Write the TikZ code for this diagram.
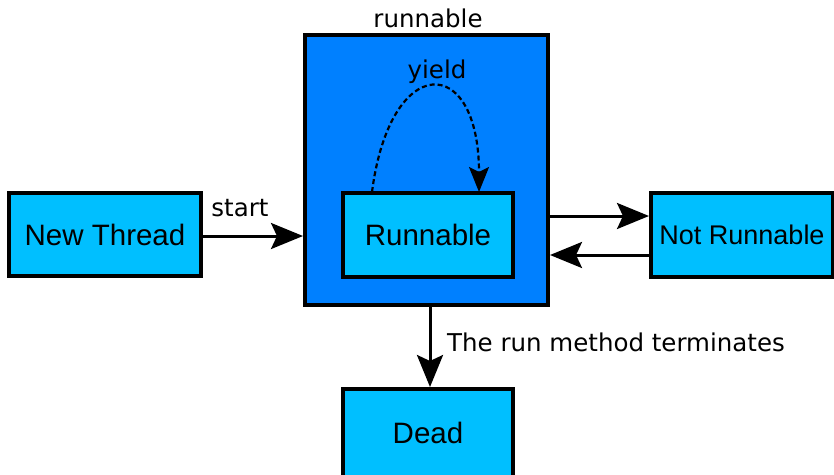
\documentclass[tikz,border=0pt]{standalone}
\usepackage{fontspec}
\newfontfamily\boxfont{Liberation Sans}
\newfontfamily\labfont{DejaVu Sans}
\usetikzlibrary{arrows.meta}
\definecolor{outerblue}{HTML}{0080FF}
\definecolor{innerblue}{HTML}{00BFFF}
\begin{document}
\begin{tikzpicture}[x=1pt,y=-1pt,
  statebox/.style={draw=black, line width=4pt, fill=innerblue, rectangle, inner sep=0pt,
    font=\boxfont\fontsize{29.5}{34}\selectfont},
  conn/.style={line width=3pt, -{Stealth[length=32pt,width=26pt,inset=6pt]}},
  lab/.style={font=\labfont\fontsize{24.5}{29}\selectfont, inner sep=0pt}]
\useasboundingbox (0,0) rectangle (834,474);
\node[draw=black, line width=4pt, fill=outerblue, rectangle, minimum width=243pt, minimum height=270pt, inner sep=0pt] (outer) at (426.5,170) {};
\node[lab] (outerlab) at (428,18) {runnable};
\node[statebox, minimum width=170pt, minimum height=84pt] (run) at (428,235) {Runnable};
\node[statebox, minimum width=192pt, minimum height=83pt] (new) at (105,234.5) {New Thread};
\node[statebox, minimum width=182pt, minimum height=84pt, font=\boxfont\fontsize{27}{32}\selectfont] (notrun) at (742,235) {Not Runnable};
\node[statebox, minimum width=170pt, minimum height=88pt] (dead) at (428,433) {Dead};
\coordinate (ys) at (372,192);
\coordinate (ye) at (479,192);
\draw[line width=2.2pt, dash pattern=on 5pt off 3pt, -{Stealth[length=25pt,width=20pt,inset=5pt]}]
  (ys) .. controls (390,52) and (479,52) .. (ye);
\node[lab] (yieldlab) at (437,72) {yield};
\draw[conn] (new.east |- 0,236) -- (outer.west |- 0,236);
\node[lab] (startlab) at (240,208) {start};
\draw[conn] (outer.east |- 0,216) -- (notrun.west |- 0,216);
\draw[conn] (notrun.west |- 0,255) -- (outer.east |- 0,255);
\draw[conn] (outer.south -| 430,0) -- (dead.north -| 430,0);
\node[lab, anchor=west] (termlab) at (447,342) {The run method terminates};
\end{tikzpicture}
\end{document}
